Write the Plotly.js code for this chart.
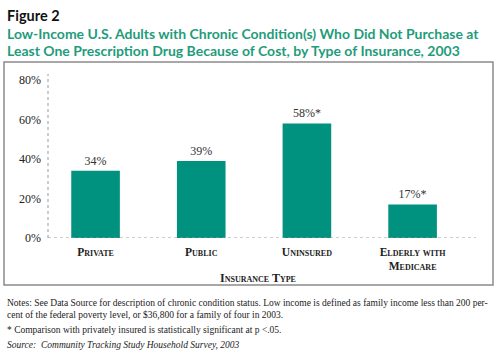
<!DOCTYPE html>
<html>
<head>
<meta charset="utf-8">
<script src="https://cdn.plot.ly/plotly-3.0.1.min.js"></script>
<style>html,body{margin:0;padding:0;background:#fff;}#chart{width:500px;height:357px;}</style>
</head>
<body>
<div id="chart"></div>
<script>
// Data
var categories = ['Private', 'Public', 'Uninsured', 'Elderly with<br>Medicare'];
var values = [34, 39, 58, 17];
var significant = [false, false, true, true];
var yTickVals = [0, 20, 40, 60, 80];
var yTickText = ['0%', '20%', '40%', '60%', '80%'];
var figureLabel = 'Figure 2';
var titleLines = ['Low-Income U.S. Adults with Chronic Condition(s) Who Did Not Purchase at',
                  'Least One Prescription Drug Because of Cost, by Type of Insurance, 2003'];
var xTitle = 'Insurance Type';
var notes = ['Notes: See Data Source for description of chronic condition status. Low income is defined as family income less than 200 per-',
             'cent of the federal poverty level, or $36,800 for a family of four in 2003.',
             '* Comparison with privately insured is statistically significant at p <.05.',
             '<i>Source:  Community Tracking Study Household Survey, 2003</i>'];

var barLabels = values.map(function (v, i) { return v + '%' + (significant[i] ? '*' : ''); });

var serif = '"Liberation Serif", "Times New Roman", serif';
var sans = 'Lato, "Noto Sans", sans-serif';
var green = '#1f9c7b';

var trace = {
  type: 'bar',
  x: categories,
  y: values,
  text: barLabels,
  textposition: 'outside',
  textfont: {family: serif, size: 12, color: '#333'},
  cliponaxis: false,
  marker: {color: '#00927e', line: {color: '#00927e', width: 0}},
  width: 0.46,
  hoverinfo: 'none'
};

// plot area: x 48..476, y 74..238
var L = 48, R = 24, T = 74, B = 119, W = 500, H = 357;
var pw = W - L - R, ph = H - T - B;
function px(x) { return (x - L) / pw; }
function py(y) { return (H - B - y) / ph; }

var annotations = [
  {text: '<b>' + figureLabel + '</b>', x: px(5), y: py(16), xref: 'paper', yref: 'paper', xanchor: 'left', yanchor: 'middle', showarrow: false,
   font: {family: sans, size: 14.5, color: '#111'}},
  {text: '<b>' + titleLines[0] + '</b>', x: px(5), y: py(33), xref: 'paper', yref: 'paper', xanchor: 'left', yanchor: 'middle', showarrow: false,
   font: {family: sans, size: 14, color: green}},
  {text: '<b>' + titleLines[1] + '</b>', x: px(5), y: py(50), xref: 'paper', yref: 'paper', xanchor: 'left', yanchor: 'middle', showarrow: false,
   font: {family: sans, size: 14, color: green}},
  {text: '<b>' + xTitle + '</b>', x: px(258), y: py(278), xref: 'paper', yref: 'paper', xanchor: 'center', yanchor: 'middle', showarrow: false,
   font: {family: serif, size: 12, color: '#222', variant: 'small-caps'}}
];
var noteY = [303, 315, 330, 345];
notes.forEach(function (n, i) {
  annotations.push({text: n, x: px(5), y: py(noteY[i]), xref: 'paper', yref: 'paper', xanchor: 'left', yanchor: 'middle', showarrow: false,
    font: {family: serif, size: 9.5, color: '#222'}});
});

var shapes = [
  // frame
  {type: 'rect', xref: 'paper', yref: 'paper', x0: px(4), x1: px(493), y0: py(62), y1: py(285),
   line: {color: '#8a8a8a', width: 1.5}, fillcolor: 'rgba(0,0,0,0)', layer: 'below'},
  // y axis dotted line
  {type: 'line', xref: 'paper', yref: 'paper', x0: 0, x1: 0, y0: 0, y1: 1,
   line: {color: '#999', width: 1, dash: 'dot'}},
  // zero baseline dotted
  {type: 'line', xref: 'paper', yref: 'y', x0: 0, x1: 1, y0: 0, y1: 0,
   line: {color: '#999', width: 1, dash: 'dot'}}
];

var layout = {
  width: W, height: H,
  margin: {l: L, r: R, t: T, b: B, pad: 0},
  paper_bgcolor: '#fff', plot_bgcolor: '#fff',
  showlegend: false,
  xaxis: {
    type: 'category',
    range: [-0.45, 3.6],
    showgrid: false, zeroline: false, showline: false, ticks: '',
    tickfont: {family: serif, size: 11.5, color: '#222', variant: 'small-caps', weight: 700},
    ticklabelstandoff: 5,
    fixedrange: true
  },
  yaxis: {
    range: [0, 83],
    tickvals: yTickVals, ticktext: yTickText,
    showgrid: false, zeroline: false, showline: false, ticks: '',
    tickfont: {family: serif, size: 12, color: '#222'},
    ticklabelstandoff: 6,
    fixedrange: true
  },
  annotations: annotations,
  shapes: shapes
};

Plotly.newPlot('chart', [trace], layout, {displayModeBar: false, staticPlot: true});
</script>
</body>
</html>
